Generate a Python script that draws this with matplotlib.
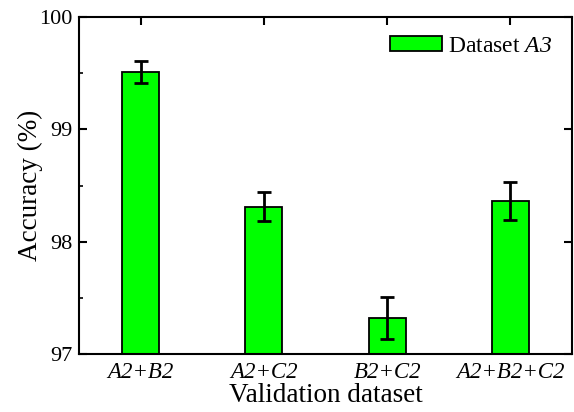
import numpy as np
import matplotlib.pyplot as plt
from matplotlib.ticker import MultipleLocator

plt.rcParams['font.family'] = ['Liberation Serif', 'DejaVu Serif']
plt.rcParams['mathtext.fontset'] = 'custom'
plt.rcParams['mathtext.rm'] = 'Liberation Serif'
# italic digits: use the sf slot for an italic serif face
plt.rcParams['mathtext.sf'] = 'Liberation Serif:italic'

categories = ['A2+B2', 'A2+C2', 'B2+C2', 'A2+B2+C2']
accuracy = [99.51, 98.31, 97.32, 98.36]
errors = [0.10, 0.13, 0.19, 0.17]

fig = plt.figure(figsize=(5.74, 4.12), dpi=100)
ax = fig.add_axes([79/574, 1 - 354/412, 493/574, 337/412])

x = np.arange(len(categories))
ax.bar(x, accuracy, width=0.3, color='#00ff00', edgecolor='black', linewidth=1.3,
       label=r'Dataset $\mathsf{A3}$', zorder=2)
ax.errorbar(x, accuracy, yerr=errors, fmt='none', ecolor='black', elinewidth=2,
            capsize=5, capthick=2, zorder=3)

ax.set_xlim(-0.5, 3.5)
ax.set_ylim(97, 100)
ax.yaxis.set_major_locator(MultipleLocator(1))
ax.yaxis.set_minor_locator(MultipleLocator(0.5))
ax.set_xticks(x)
ax.set_xticklabels(categories, fontstyle='italic', fontsize=16.5)
ax.tick_params(axis='y', labelsize=16, pad=5)
ax.tick_params(axis='x', pad=6)
ax.tick_params(which='major', direction='in', length=6, width=1.5, top=True, right=True)
ax.tick_params(which='minor', direction='in', length=3, width=1.2, right=False)
for s in ax.spines.values():
    s.set_linewidth(1.5)

ax.set_xlabel('Validation dataset', fontsize=19.5, labelpad=0)
ax.set_ylabel('Accuracy (%)', fontsize=19.5, labelpad=-3)
ax.legend(loc='upper right', bbox_to_anchor=(0.978, 0.973), frameon=False, fontsize=17,
          handlelength=2.2, handleheight=0.65, handletextpad=0.25, borderaxespad=0)

fig.savefig('out.png', dpi=100)
